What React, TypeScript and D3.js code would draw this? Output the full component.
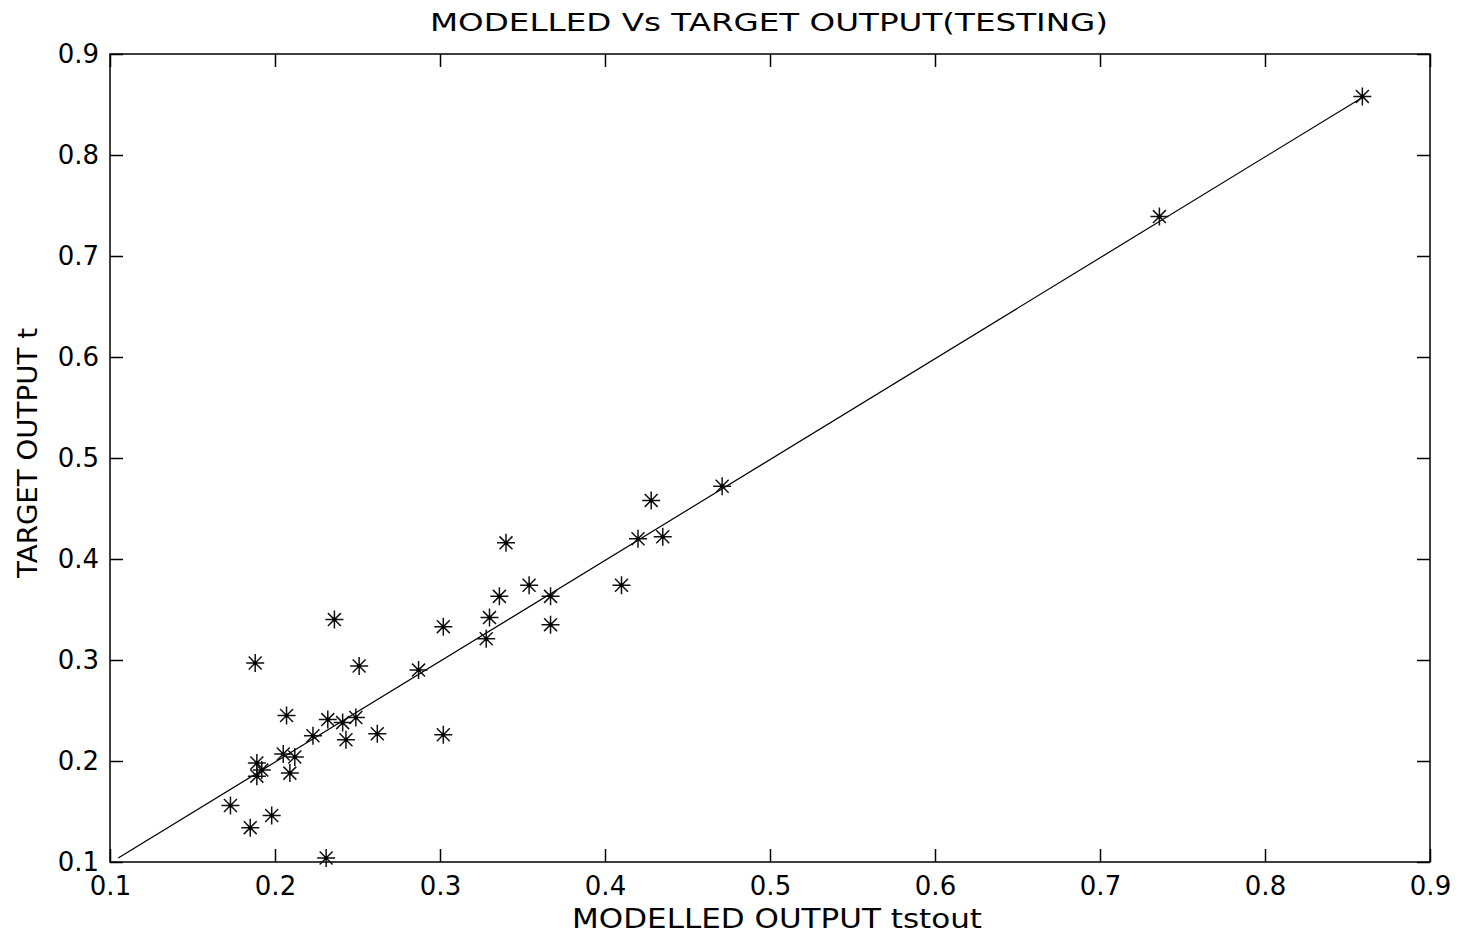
import React, { useRef, useEffect } from "react";
import * as d3 from "d3";

const modelled = [
  0.859, 0.736, 0.471, 0.428, 0.42, 0.435, 0.41, 0.34, 0.354, 0.336, 0.367, 0.33,
  0.367, 0.302, 0.328, 0.236, 0.188, 0.251, 0.287, 0.302, 0.207, 0.232, 0.249,
  0.241, 0.243, 0.262, 0.223, 0.205, 0.212, 0.189, 0.192, 0.189, 0.209, 0.173,
  0.185, 0.198, 0.231,
];
const target = [
  0.858, 0.739, 0.472, 0.458, 0.42, 0.422, 0.374, 0.416, 0.374, 0.363, 0.363, 0.342,
  0.335, 0.333, 0.321, 0.34, 0.297, 0.294, 0.29, 0.226, 0.245, 0.241, 0.243, 0.238,
  0.221, 0.227, 0.225, 0.207, 0.204, 0.198, 0.191, 0.185, 0.188, 0.156, 0.134,
  0.146, 0.104,
];
const fitX = [0.105, 0.86];
const fitY = [0.104, 0.858];
const ticks = [0.1, 0.2, 0.3, 0.4, 0.5, 0.6, 0.7, 0.8, 0.9];

export default function App() {
  const ref = useRef<SVGSVGElement>(null);

  useEffect(() => {
    const svg = d3.select(ref.current);
    svg.selectAll("*").remove();

    const width = 1460;
    const height = 935;
    const margin = { top: 54, right: 30, bottom: 73, left: 110 };
    const w = width - margin.left - margin.right;
    const h = height - margin.top - margin.bottom;
    const font = "'DejaVu Sans', Arial, sans-serif";

    const g = svg
      .append("g")
      .attr("transform", `translate(${margin.left},${margin.top})`);

    const x = d3.scaleLinear().domain([0.1, 0.9]).range([0, w]);
    const y = d3.scaleLinear().domain([0.1, 0.9]).range([h, 0]);

    // box
    g.append("rect")
      .attr("width", w)
      .attr("height", h)
      .attr("fill", "none")
      .attr("stroke", "#000")
      .attr("stroke-width", 1.5);

    const tickLen = 13;
    const fmt = d3.format(".1f");
    const axes: [any, string, number][] = [
      [d3.axisBottom(x), "b", h],
      [d3.axisTop(x), "t", 0],
      [d3.axisLeft(y), "l", 0],
      [d3.axisRight(y), "r", w],
    ];
    axes.forEach(([ax, side, off]) => {
      const a = g
        .append("g")
        .attr(
          "transform",
          side === "b" || side === "t" ? `translate(0,${off})` : `translate(${off},0)`
        )
        .call(
          ax
            .tickValues(ticks)
            .tickSizeInner(-tickLen)
            .tickSizeOuter(0)
            .tickPadding(side === "b" ? 15 : 11)
            .tickFormat(side === "b" || side === "l" ? fmt : () => "")
        );
      a.select(".domain").remove();
      a.selectAll("line").attr("stroke", "#000").attr("stroke-width", 1.5);
      a.selectAll("text")
        .attr("fill", "#000")
        .style("font-family", font)
        .style("font-size", "26px");
    });

    // fit line
    const line = d3
      .line<number>()
      .x((d) => x(d))
      .y((_, i) => y(fitY[i]));
    g.append("path")
      .datum(fitX)
      .attr("fill", "none")
      .attr("stroke", "#000")
      .attr("stroke-width", 1.2)
      .attr("d", line);

    // asterisk markers
    const r = 9;
    const rd = r * 0.72;
    const star = `M${-r},0L${r},0M0,${-r}L0,${r}M${-rd},${-rd}L${rd},${rd}M${-rd},${rd}L${rd},${-rd}`;
    g.append("g")
      .selectAll("path")
      .data(modelled)
      .join("path")
      .attr("transform", (d, i) => `translate(${x(d)},${y(target[i])})`)
      .attr("d", star)
      .attr("fill", "none")
      .attr("stroke", "#111")
      .attr("stroke-width", 1.5);
    g.append("g")
      .selectAll("circle")
      .data(modelled)
      .join("circle")
      .attr("cx", (d) => x(d))
      .attr("cy", (_, i) => y(target[i]))
      .attr("r", 2)
      .attr("fill", "#000");

    // title and labels
    svg.append("text")
      .attr("x", 769)
      .attr("y", 31)
      .attr("text-anchor", "middle")
      .attr("textLength", 678)
      .attr("lengthAdjust", "spacingAndGlyphs")
      .style("font-family", font)
      .style("font-size", "25px")
      .text("MODELLED Vs TARGET OUTPUT(TESTING)");

    svg.append("text")
      .attr("x", 777)
      .attr("y", 928)
      .attr("text-anchor", "middle")
      .attr("textLength", 410)
      .attr("lengthAdjust", "spacingAndGlyphs")
      .style("font-family", font)
      .style("font-size", "26px")
      .text("MODELLED OUTPUT tstout");

    svg.append("text")
      .attr("transform", `translate(37,453) rotate(-90)`)
      .attr("text-anchor", "middle")
      .attr("textLength", 250)
      .attr("lengthAdjust", "spacingAndGlyphs")
      .style("font-family", font)
      .style("font-size", "27px")
      .text("TARGET OUTPUT t");
  }, []);

  return (
    <div style={{ position: "absolute", left: 0, top: 0 }}>
      <svg ref={ref} width={1460} height={935} style={{ display: "block", background: "#fff" }}></svg>
    </div>
  );
}
